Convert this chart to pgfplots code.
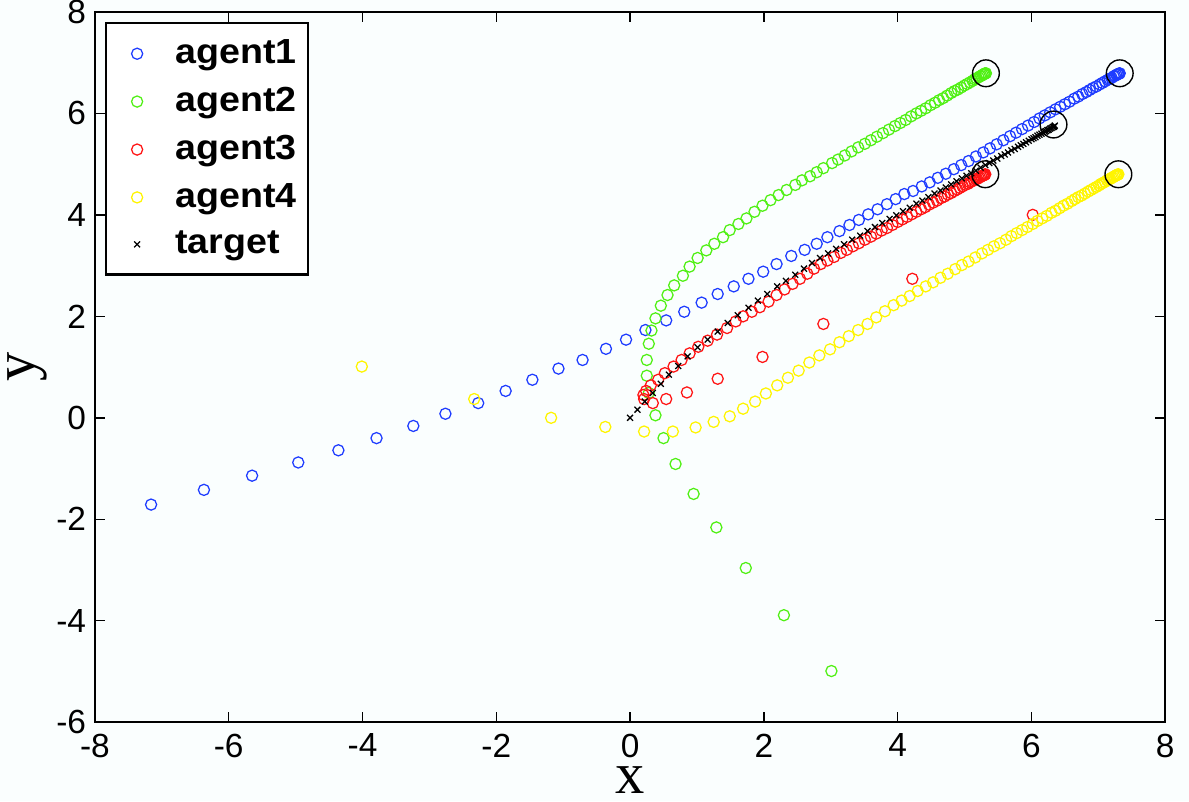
\documentclass[border=0pt]{standalone}
\usepackage{fontspec}
\setmainfont{Liberation Sans}
\newfontfamily\legfont[FakeStretch=1.08]{Liberation Sans}
\newfontfamily\labfont{Liberation Serif}
\usepackage{pgfplots}
\pgfplotsset{compat=1.18}
\definecolor{ablue}{RGB}{30,60,255}
\definecolor{agreen}{RGB}{80,240,20}
\definecolor{ared}{RGB}{255,20,20}
\definecolor{ayellow}{RGB}{255,245,0}
\definecolor{bg}{RGB}{250,254,254}

\begin{document}
\begin{tikzpicture}
% page area (1189x801 px at 15cm wide)
\fill[bg] (-1.197,-0.996) rectangle (13.80,9.11);
\begin{axis}[
  at={(0,0)},anchor=south west,scale only axis,
  width=13.5cm,height=8.96cm,
  xmin=-8,xmax=8,ymin=-6,ymax=8,
  xtick={-8,-6,...,8},ytick={-6,-4,...,8},
  tick align=inside,major tick length=3.6pt,
  axis line style={line width=0.8pt},
  every tick/.style={black,line width=0.5pt},
  axis background/.style={fill=bg},
  /pgf/number format/assume math mode=true,
  tick label style={font=\fontsize{12}{12}\selectfont,inner ysep=0pt,inner xsep=3pt},
  xticklabel style={yshift=-4pt},
  xlabel={x},ylabel={y},
  label style={font=\labfont\fontsize{21}{21}\selectfont,inner sep=0pt},
  xlabel style={at={(axis description cs:0.5,0)},anchor=base,
    yshift=-0.90cm,text height=1ex,text depth=0pt},
  ylabel style={at={(axis description cs:-0.060,0.5)},anchor=center,
    text height=1ex,text depth=0.5ex},
  legend style={at={(rel axis cs:0.0093,0.986)},anchor=north west,
    draw=black,line width=0.8pt,fill=white,
    font=\legfont\bfseries\fontsize{12.5}{12.5}\selectfont,
    row sep=3pt,inner xsep=1pt,inner ysep=4pt,
    nodes={inner xsep=3pt}},
  legend cell align=left,
  legend image code/.code={%
    \path (0cm,0cm) (0.72cm,0cm);
    \draw[#1] plot coordinates {(0.35cm,0cm)};},
  every axis plot/.append style={only marks,line width=0.45pt},
]
\addplot[ablue,mark=o,mark size=2pt] coordinates {
(-7.16,-1.71)(-6.37,-1.42)(-5.65,-1.14)(-4.96,-0.88)(-4.36,-0.64)(-3.79,-0.40)
(-3.24,-0.16)(-2.76,0.08)(-2.27,0.29)(-1.86,0.53)(-1.46,0.75)(-1.07,0.97)
(-0.71,1.14)(-0.36,1.36)(-0.06,1.54)(0.23,1.73)(0.54,1.92)(0.81,2.09)
(1.07,2.27)(1.31,2.44)(1.55,2.59)(1.77,2.74)(1.99,2.88)(2.19,3.03)
(2.41,3.19)(2.61,3.31)(2.79,3.43)(2.95,3.56)(3.13,3.68)(3.28,3.80)
(3.42,3.90)(3.56,4.01)(3.70,4.11)(3.84,4.21)(3.97,4.31)(4.10,4.41)
(4.23,4.47)(4.36,4.56)(4.48,4.64)(4.60,4.73)(4.72,4.81)(4.84,4.90)
(4.95,4.98)(5.06,5.06)(5.17,5.15)(5.28,5.23)(5.38,5.31)(5.48,5.39)
(5.58,5.47)(5.68,5.55)(5.77,5.62)(5.86,5.69)(5.95,5.76)(6.04,5.83)
(6.12,5.90)(6.20,5.96)(6.28,6.02)(6.36,6.08)(6.43,6.13)(6.50,6.18)
(6.57,6.23)(6.64,6.29)(6.70,6.33)(6.76,6.38)(6.82,6.42)(6.87,6.46)
(6.92,6.50)(6.97,6.53)(7.02,6.57)(7.06,6.60)(7.10,6.63)(7.14,6.66)
(7.17,6.68)(7.20,6.70)(7.23,6.73)(7.25,6.74)(7.27,6.76)(7.29,6.77)
(7.30,6.78)(7.31,6.78)(7.32,6.79)};
\addlegendentry{agent1}
\addplot[agreen,mark=o,mark size=2pt] coordinates {
(3.01,-4.99)(2.30,-3.89)(1.73,-2.96)(1.29,-2.16)(0.95,-1.50)(0.68,-0.91)
(0.50,-0.40)(0.38,0.05)(0.28,0.49)(0.25,0.83)(0.25,1.14)(0.28,1.46)
(0.32,1.72)(0.38,1.96)(0.46,2.21)(0.56,2.42)(0.66,2.61)(0.79,2.80)
(0.89,2.98)(1.01,3.15)(1.14,3.30)(1.26,3.43)(1.39,3.56)(1.49,3.70)
(1.62,3.82)(1.74,3.93)(1.86,4.06)(1.98,4.18)(2.10,4.29)(2.22,4.39)
(2.34,4.49)(2.47,4.59)(2.57,4.68)(2.69,4.76)(2.79,4.84)(2.89,4.92)
(3.02,5.02)(3.11,5.09)(3.21,5.17)(3.31,5.25)(3.41,5.33)(3.51,5.40)
(3.60,5.47)(3.69,5.54)(3.78,5.61)(3.87,5.68)(3.96,5.75)(4.04,5.81)
(4.12,5.87)(4.20,5.94)(4.28,6.00)(4.35,6.05)(4.42,6.10)(4.49,6.16)
(4.56,6.21)(4.62,6.26)(4.68,6.30)(4.74,6.35)(4.80,6.40)(4.85,6.44)
(4.90,6.47)(4.95,6.51)(5.00,6.55)(5.04,6.58)(5.08,6.61)(5.12,6.64)
(5.15,6.67)(5.18,6.69)(5.21,6.71)(5.23,6.73)(5.25,6.74)(5.27,6.76)
(5.29,6.77)(5.30,6.78)(5.31,6.79)(5.32,6.79)};
\addlegendentry{agent2}
\addplot[ared,mark=o,mark size=2pt] coordinates {
(6.02,4.00)(4.22,2.74)(2.89,1.85)(1.98,1.20)(1.31,0.77)(0.85,0.50)
(0.54,0.37)(0.34,0.29)(0.21,0.37)(0.20,0.45)(0.24,0.53)(0.31,0.64)
(0.42,0.75)(0.52,0.88)(0.65,1.01)(0.77,1.14)(0.89,1.27)(1.02,1.40)
(1.16,1.52)(1.30,1.64)(1.45,1.77)(1.58,1.90)(1.69,2.00)(1.82,2.09)
(1.94,2.18)(2.07,2.29)(2.19,2.42)(2.31,2.53)(2.43,2.64)(2.54,2.74)
(2.65,2.84)(2.75,2.94)(2.85,3.03)(2.95,3.10)(3.05,3.17)(3.15,3.25)
(3.24,3.31)(3.33,3.38)(3.42,3.44)(3.51,3.51)(3.60,3.57)(3.68,3.63)
(3.76,3.69)(3.84,3.74)(3.92,3.80)(4.00,3.86)(4.07,3.91)(4.14,3.96)
(4.21,4.01)(4.28,4.06)(4.35,4.11)(4.41,4.15)(4.47,4.20)(4.53,4.24)
(4.59,4.28)(4.65,4.33)(4.70,4.36)(4.75,4.40)(4.80,4.43)(4.85,4.47)
(4.89,4.50)(4.93,4.53)(4.97,4.56)(5.01,4.59)(5.05,4.61)(5.08,4.64)
(5.11,4.66)(5.14,4.68)(5.17,4.70)(5.19,4.71)(5.21,4.73)(5.23,4.74)
(5.25,4.76)(5.27,4.77)(5.28,4.78)(5.29,4.78)(5.30,4.79)(5.31,4.80)};
\addlegendentry{agent3}
\addplot[ayellow,mark=o,mark size=2pt] coordinates {
(-4.01,1.01)(-2.33,0.37)(-1.18,0.00)(-0.37,-0.18)(0.21,-0.27)(0.64,-0.27)
(0.98,-0.19)(1.25,-0.08)(1.49,0.03)(1.69,0.18)(1.87,0.32)(2.03,0.48)
(2.20,0.64)(2.36,0.79)(2.52,0.93)(2.68,1.09)(2.83,1.23)(2.99,1.35)
(3.13,1.49)(3.27,1.61)(3.41,1.73)(3.55,1.85)(3.68,1.98)(3.81,2.10)
(3.94,2.22)(4.06,2.31)(4.18,2.40)(4.30,2.50)(4.42,2.59)(4.53,2.67)
(4.64,2.76)(4.75,2.84)(4.86,2.93)(4.96,3.01)(5.06,3.08)(5.16,3.16)
(5.26,3.24)(5.35,3.31)(5.44,3.38)(5.53,3.44)(5.62,3.51)(5.70,3.58)
(5.78,3.64)(5.86,3.70)(5.94,3.76)(6.02,3.82)(6.09,3.88)(6.16,3.93)
(6.23,3.98)(6.30,4.04)(6.36,4.08)(6.42,4.13)(6.48,4.18)(6.54,4.22)
(6.60,4.27)(6.65,4.31)(6.70,4.35)(6.75,4.38)(6.80,4.42)(6.85,4.46)
(6.89,4.49)(6.93,4.52)(6.97,4.55)(7.01,4.58)(7.04,4.61)(7.07,4.63)
(7.10,4.65)(7.13,4.68)(7.16,4.70)(7.18,4.71)(7.20,4.73)(7.22,4.74)
(7.24,4.76)(7.26,4.77)(7.27,4.78)(7.28,4.79)(7.29,4.79)(7.30,4.80)};
\addlegendentry{agent4}
\addplot[black,mark=x,mark size=1.5pt] coordinates {
(0.00,0.00)(0.11,0.16)(0.22,0.32)(0.34,0.49)(0.46,0.67)(0.58,0.85)
(0.72,1.02)(0.86,1.21)(1.01,1.39)(1.16,1.54)(1.31,1.70)(1.46,1.87)
(1.61,2.02)(1.77,2.17)(1.91,2.31)(2.05,2.44)(2.20,2.59)(2.33,2.70)
(2.47,2.82)(2.60,2.94)(2.72,3.05)(2.84,3.15)(2.96,3.24)(3.08,3.33)
(3.20,3.42)(3.32,3.51)(3.44,3.59)(3.55,3.68)(3.66,3.76)(3.77,3.84)
(3.88,3.92)(3.98,3.99)(4.08,4.07)(4.18,4.14)(4.28,4.22)(4.37,4.28)
(4.46,4.35)(4.55,4.42)(4.64,4.48)(4.72,4.54)(4.80,4.60)(4.88,4.66)
(4.96,4.72)(5.03,4.77)(5.10,4.82)(5.17,4.87)(5.24,4.93)(5.31,4.98)
(5.37,5.02)(5.43,5.07)(5.49,5.11)(5.55,5.16)(5.60,5.19)(5.65,5.23)
(5.70,5.27)(5.75,5.30)(5.80,5.34)(5.84,5.37)(5.88,5.40)(5.92,5.43)
(5.96,5.46)(6.00,5.49)(6.03,5.51)(6.06,5.53)(6.09,5.56)(6.12,5.58)
(6.15,5.60)(6.18,5.62)(6.20,5.64)(6.22,5.65)(6.24,5.67)(6.26,5.68)
(6.28,5.70)(6.30,5.71)(6.32,5.73)(6.33,5.73)(6.34,5.74)(6.35,5.76)};
\addlegendentry{target}
\addplot[black,mark=o,mark size=4.8pt,line width=0.5pt,forget plot] coordinates {
(5.32,6.79)(7.32,6.79)(5.31,4.80)(7.30,4.80)(6.33,5.78)};
\end{axis}
\end{tikzpicture}
\end{document}
